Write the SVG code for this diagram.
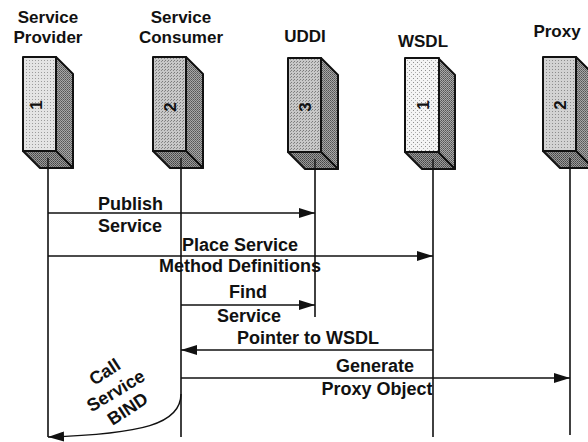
<svg xmlns="http://www.w3.org/2000/svg" width="588" height="442" viewBox="0 0 588 442">
  <defs>
    <style>
      .title { font-family: "Liberation Sans", Arial, sans-serif; font-weight: bold; font-size: 17px; fill: #111; text-anchor: middle; }
      .lbl { font-family: "Liberation Sans", Arial, sans-serif; font-weight: bold; font-size: 18px; fill: #111; }
      .mid { text-anchor: middle; }
      .num { font-family: "Liberation Sans", Arial, sans-serif; font-weight: bold; font-size: 17px; fill: #111; text-anchor: middle; }
      .edge { stroke: #111; stroke-width: 2; stroke-linejoin: round; }
      .life { stroke: #111; stroke-width: 1.6; fill: none; }
      .msg { stroke: #111; stroke-width: 1.5; fill: none; marker-end: url(#head); }
    </style>
    <!-- stippled fills for the server boxes -->
    <pattern id="light" width="3" height="3" patternUnits="userSpaceOnUse">
      <rect width="3" height="3" fill="#e4e4e4"/>
      <rect width="1" height="1" fill="#9c9c9c"/>
    </pattern>
    <pattern id="medium" width="3" height="3" patternUnits="userSpaceOnUse">
      <rect width="3" height="3" fill="#c8c8c8"/>
      <rect width="1" height="1" fill="#7a7a7a"/>
      <rect x="2" y="1" width="1" height="1" fill="#8a8a8a"/>
    </pattern>
    <pattern id="mid2" width="3" height="3" patternUnits="userSpaceOnUse">
      <rect width="3" height="3" fill="#d2d2d2"/>
      <rect width="1" height="1" fill="#8c8c8c"/>
    </pattern>
    <pattern id="dotted" width="4" height="4" patternUnits="userSpaceOnUse">
      <rect width="4" height="4" fill="#f4f4f4"/>
      <rect width="1" height="1" fill="#8e8e8e"/>
      <rect x="2" y="2" width="1" height="1" fill="#b0b0b0"/>
    </pattern>
    <pattern id="dark" width="2" height="2" patternUnits="userSpaceOnUse">
      <rect width="2" height="2" fill="#a8a8a8"/>
      <rect width="1" height="1" fill="#555"/>
      <rect x="1" y="1" width="1" height="1" fill="#6a6a6a"/>
    </pattern>
    <pattern id="darker" width="2" height="2" patternUnits="userSpaceOnUse">
      <rect width="2" height="2" fill="#9a9a9a"/>
      <rect width="1" height="1" fill="#444"/>
      <rect x="1" y="1" width="1" height="1" fill="#5a5a5a"/>
    </pattern>
    <marker id="head" viewBox="0 0 16 10" refX="16" refY="5" markerWidth="16" markerHeight="10" markerUnits="userSpaceOnUse" orient="auto">
      <path d="M0,0 L16,5 L0,10 z" fill="#111"/>
    </marker>
    <!-- 3D box: front 33x94, depth 17 -->
    <g id="boxShape">
      <polygon class="edge" points="33,0 50,17 50,111 33,94" fill="url(#dark)"/>
      <polygon class="edge" points="0,94 33,94 50,111 17,111" fill="url(#darker)"/>
    </g>
  </defs>

  <rect width="588" height="442" fill="#fff"/>

  <!-- lifelines -->
  <g id="lifelines">
    <line class="life" x1="48" y1="158" x2="48" y2="437"/>
    <line class="life" x1="181" y1="158" x2="181" y2="437"/>
    <line class="life" x1="315" y1="160" x2="315" y2="317"/>
    <line class="life" x1="433" y1="160" x2="433" y2="437"/>
    <line class="life" x1="570" y1="160" x2="570" y2="435"/>
  </g>

  <g id="provider">
    <text class="title" x="48" y="23">Service</text>
    <text class="title" x="48" y="43">Provider</text>
    <g transform="translate(23,57)">
      <use href="#boxShape"/>
      <rect class="edge" width="33" height="94" fill="url(#light)"/>
      <line x1="25" y1="101" x2="25" y2="111" stroke="#111" stroke-width="1.4"/>
      <text class="num" transform="translate(13,48) rotate(-90)" x="0" y="6">1</text>
    </g>
  </g>

  <g id="consumer">
    <text class="title" x="181" y="23">Service</text>
    <text class="title" x="181" y="43">Consumer</text>
    <g transform="translate(153,57)">
      <use href="#boxShape"/>
      <rect class="edge" width="33" height="94" fill="url(#medium)"/>
      <line x1="28" y1="101" x2="28" y2="111" stroke="#111" stroke-width="1.4"/>
      <text class="num" transform="translate(17,50) rotate(-90)" x="0" y="6">2</text>
    </g>
  </g>

  <g id="uddi">
    <text class="title" x="305" y="42">UDDI</text>
    <g transform="translate(288,58)">
      <use href="#boxShape"/>
      <rect class="edge" width="33" height="94" fill="url(#medium)"/>
      <line x1="27" y1="101" x2="27" y2="111" stroke="#111" stroke-width="1.4"/>
      <text class="num" transform="translate(17,49) rotate(-90)" x="0" y="6">3</text>
    </g>
  </g>

  <g id="wsdl">
    <text class="title" x="423" y="47">WSDL</text>
    <g transform="translate(405,58)">
      <use href="#boxShape"/>
      <rect class="edge" width="34" height="94" fill="url(#dotted)"/>
      <line x1="28" y1="101" x2="28" y2="111" stroke="#111" stroke-width="1.4"/>
      <text class="num" transform="translate(18,47) rotate(-90)" x="0" y="6">1</text>
    </g>
  </g>

  <g id="proxy">
    <text class="title" x="557" y="37">Proxy</text>
    <g transform="translate(543,57)">
      <use href="#boxShape"/>
      <rect class="edge" width="33" height="94" fill="url(#mid2)"/>
      <line x1="27" y1="101" x2="27" y2="111" stroke="#111" stroke-width="1.4"/>
      <text class="num" transform="translate(17,48) rotate(-90)" x="0" y="6">2</text>
    </g>
  </g>

  <!-- messages -->
  <g id="connectors">
    <path class="msg" d="M48,213 H315"/>
    <path class="msg" d="M48,256 H433"/>
    <path class="msg" d="M181,305 H315"/>
    <path class="msg" d="M433,350 H181"/>
    <path class="msg" d="M181,378 H570"/>
    <path class="msg" d="M181,394 C181,424 142,434 48,437"/>
  </g>

  <g id="labels">
    <text class="lbl" x="98" y="210">Publish</text>
    <text class="lbl" x="98" y="232">Service</text>
    <text class="lbl mid" x="240" y="251">Place Service</text>
    <text class="lbl mid" x="240" y="272">Method Definitions</text>
    <text class="lbl mid" x="248" y="298">Find</text>
    <text class="lbl mid" x="249" y="322">Service</text>
    <text class="lbl mid" x="308" y="344">Pointer to WSDL</text>
    <text class="lbl mid" x="375" y="372">Generate</text>
    <text class="lbl mid" x="377" y="395">Proxy Object</text>
    <text class="lbl mid" transform="translate(108,377) rotate(-33)">Call</text>
    <text class="lbl mid" transform="translate(119,396) rotate(-31)">Service</text>
    <text class="lbl mid" transform="translate(131,414) rotate(-33)">BIND</text>
  </g>
</svg>
